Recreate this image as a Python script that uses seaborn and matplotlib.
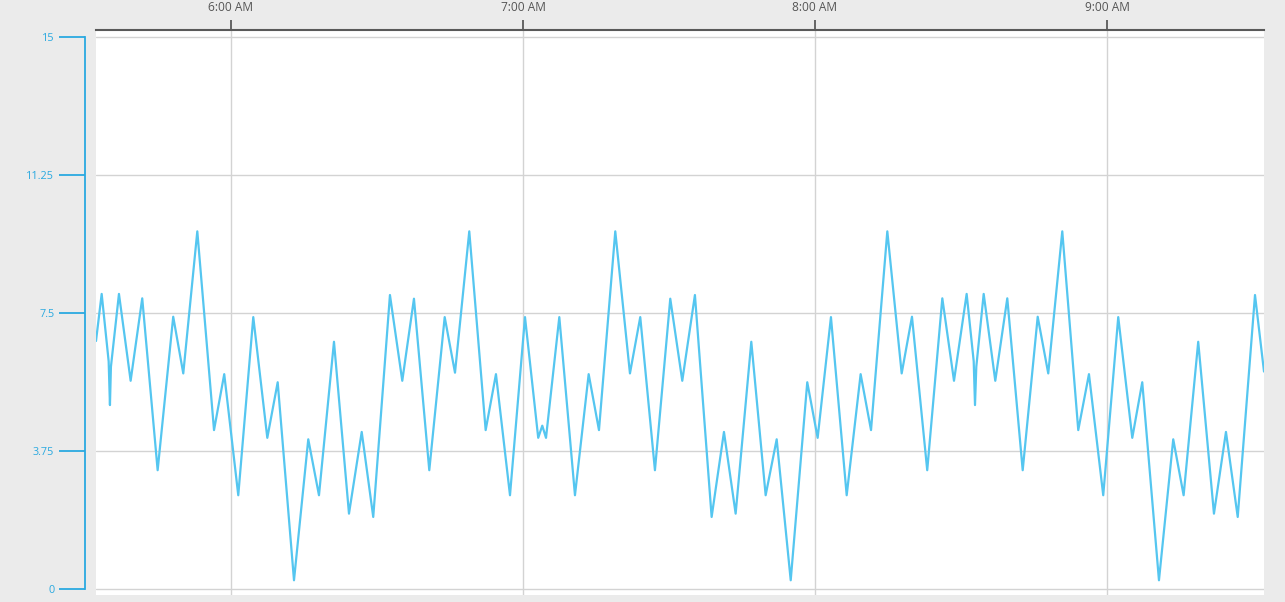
import matplotlib
matplotlib.use("Agg")
import matplotlib.pyplot as plt
import matplotlib.dates as mdates
import seaborn as sns
import pandas as pd

# ---- data ----
times = [
    "05:32:16", "05:33:26", "05:34:52", "05:35:08", "05:35:20", "05:36:59", "05:39:23", "05:41:46",
    "05:44:56", "05:48:08", "05:50:12", "05:53:05", "05:56:31", "05:58:37", "06:01:30",
    "06:04:35", "06:07:28", "06:09:36", "06:12:57", "06:15:53", "06:18:05", "06:21:10",
    "06:24:15", "06:26:52", "06:29:14", "06:32:40", "06:35:12", "06:37:36", "06:40:45",
    "06:43:55", "06:46:02", "06:48:58", "06:52:20", "06:54:27", "06:57:20", "07:00:25",
    "07:03:08", "07:03:58", "07:04:44", "07:07:28", "07:10:41", "07:13:30", "07:15:37",
    "07:18:58", "07:21:59", "07:24:06", "07:27:07", "07:30:16", "07:32:44", "07:35:20",
    "07:38:46", "07:41:18", "07:43:42", "07:46:55", "07:49:52", "07:52:08", "07:55:01",
    "07:58:25", "08:00:33", "08:03:17", "08:06:31", "08:09:23", "08:11:31", "08:14:52",
    "08:17:49", "08:19:56", "08:23:04", "08:26:10", "08:28:34", "08:31:10", "08:32:37",
    "08:32:53", "08:33:09", "08:34:40", "08:37:03", "08:39:31", "08:42:41", "08:45:46",
    "08:47:56", "08:50:49", "08:54:06", "08:56:18", "08:59:14", "09:02:19", "09:05:12",
    "09:07:15", "09:10:41", "09:13:37", "09:15:45", "09:18:45", "09:21:59", "09:24:27",
    "09:26:52", "09:30:25", "09:32:16",
]
values = [
    6.75, 8.03, 6.20, 5.01, 6.05, 8.03, 5.67, 7.91,
    3.24, 7.41, 5.87, 9.73, 4.33, 5.85, 2.56,
    7.40, 4.12, 5.63, 0.25, 4.08, 2.56, 6.73,
    2.06, 4.28, 1.97, 8.00, 5.67, 7.90, 3.24,
    7.40, 5.89, 9.73, 4.33, 5.85, 2.56, 7.40,
    4.12, 4.45, 4.12, 7.40, 2.56, 5.85, 4.33,
    9.73, 5.87, 7.40, 3.24, 7.90, 5.67, 8.00,
    1.97, 4.28, 2.06, 6.73, 2.56, 4.08, 0.25,
    5.63, 4.12, 7.40, 2.56, 5.85, 4.33, 9.73,
    5.87, 7.41, 3.24, 7.91, 5.67, 8.03, 6.20,
    5.01, 6.05, 8.03, 5.67, 7.91, 3.24, 7.41,
    5.87, 9.73, 4.33, 5.85, 2.56, 7.40, 4.12,
    5.63, 0.25, 4.08, 2.56, 6.73, 2.06, 4.28,
    1.97, 8.00, 5.92,
]
y_ticks = [0, 3.75, 7.5, 11.25, 15]
y_tick_labels = ["0", "3.75", "7.5", "11.25", "15"]
x_ticks = ["06:00:00", "07:00:00", "08:00:00", "09:00:00"]
x_tick_labels = ["6:00 AM", "7:00 AM", "8:00 AM", "9:00 AM"]
x_range = ["05:32:16", "09:32:16"]
y_range = [-0.15, 15.2]

assert len(times) == len(values)

# ---- styling ----
sns.set_theme(style="white")
plt.rcParams['font.family'] = ['Open Sans', 'DejaVu Sans']

BG = "#ebebeb"
BLUE_AXIS = "#2aa9e0"
LINE = "#55c6f0"
GRID = "#d3d3d3"
DARK = "#595959"

day = "2024-01-01 "
df = pd.DataFrame({"time": pd.to_datetime([day + t for t in times]), "value": values})

fig = plt.figure(figsize=(12.85, 6.02), dpi=100, facecolor=BG)
ax = fig.add_axes([96 / 1285, 7 / 602, 1168 / 1285, 565 / 602])
ax.set_facecolor("white")

sns.lineplot(data=df, x="time", y="value", ax=ax, color=LINE, linewidth=1.6)

ax.set_xlim(mdates.date2num(pd.to_datetime([day + t for t in x_range])))
ax.set_ylim(*y_range)

ax.set_xticks(mdates.date2num(pd.to_datetime([day + t for t in x_ticks])))
ax.set_xticklabels(x_tick_labels)
ax.set_yticks(y_ticks)
ax.set_yticklabels(y_tick_labels)
ax.set_xlabel("")
ax.set_ylabel("")

ax.grid(True, color=GRID, linewidth=1)
ax.set_axisbelow(True)

# top time axis
ax.xaxis.tick_top()
ax.spines["top"].set_visible(True)
ax.spines["top"].set_color(DARK)
ax.spines["top"].set_linewidth(1.5)
ax.tick_params(axis="x", which="both", top=True, bottom=False, length=7.2, width=1.3,
               color=DARK, labelcolor="#555555", labelsize=8.6, pad=4.0)

# detached left value axis
ax.spines["left"].set_visible(True)
ax.spines["left"].set_position(("outward", 7.9))
ax.spines["left"].set_bounds(0, 15)
ax.spines["left"].set_color(BLUE_AXIS)
ax.spines["left"].set_linewidth(1.3)
ax.tick_params(axis="y", left=True, length=18.7, width=1.3, colors=BLUE_AXIS,
               labelsize=7.8, pad=3.5)

ax.spines["right"].set_visible(False)
ax.spines["bottom"].set_visible(False)

fig.savefig("out.png", dpi=100, facecolor=BG)
